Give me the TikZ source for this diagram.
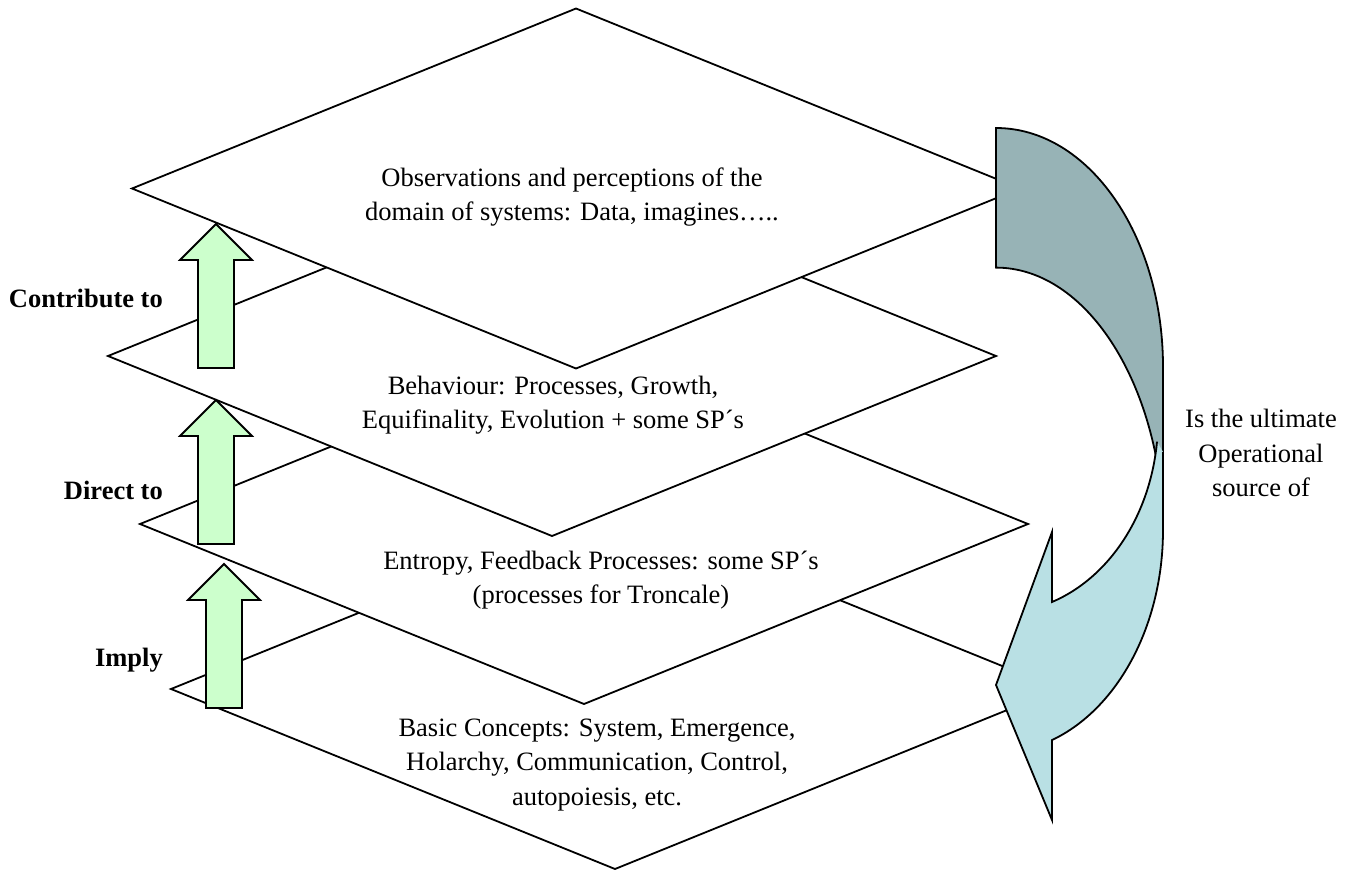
\documentclass[tikz,border=0pt]{standalone}
\usepackage{fontspec}
\setmainfont{Liberation Serif}
\usetikzlibrary{shapes.geometric}

\definecolor{arrowgreen}{RGB}{204,255,204}
\definecolor{backteal}{RGB}{151,179,182}
\definecolor{frontteal}{RGB}{185,224,228}

\tikzset{
  levelbox/.style={diamond, draw, fill=white, line width=1.8pt,
    minimum width=888pt, minimum height=360pt, inner sep=0pt, outer sep=0pt},
  leveltext/.style={align=center, inner sep=0pt,
    font=\fontsize{26.5}{34.5}\selectfont},
  sidelabel/.style={anchor=east, inner sep=0pt,
    font=\fontsize{26.5}{34.5}\selectfont\bfseries},
  uparrow/.style={draw, fill=arrowgreen, line width=1.8pt},
  bendarrow/.style={draw, line width=1.8pt}
}

\begin{document}
\begin{tikzpicture}[x=1pt, y=-1pt]
  \useasboundingbox (0,0) rectangle (1355,870);

  % the four layers, lowest first
  \node[levelbox] (basic) at (615,689) {};
  \node[levelbox] (entropy) at (584,524) {};
  \node[levelbox] (behaviour) at (552,356) {};
  \node[levelbox] (observ) at (576,188.5) {};

  \node[leveltext] (observtext) at (572,197)
    {Observations and perceptions of the\\domain of systems: Data, imagines…..};
  \node[leveltext] (behaviourtext) at (553,405)
    {Behaviour: Processes, Growth,\\Equifinality, Evolution + some SP´s};
  \node[leveltext] (entropytext) at (601,580)
    {Entropy, Feedback Processes: some SP´s\\(processes for Troncale)};
  \node[leveltext] (basictext) at (597,765)
    {Basic Concepts: System, Emergence,\\Holarchy, Communication, Control,\\autopoiesis, etc.};

  % green arrows between the layers
  \draw[uparrow] (198,368) -- ++(0,-108) -- ++(-18,0) -- ++(36,-36)
    -- ++(36,36) -- ++(-18,0) -- ++(0,108) -- cycle;
  \draw[uparrow] (198,544) -- ++(0,-108) -- ++(-18,0) -- ++(36,-36)
    -- ++(36,36) -- ++(-18,0) -- ++(0,108) -- cycle;
  \draw[uparrow] (206,708) -- ++(0,-108) -- ++(-18,0) -- ++(36,-36)
    -- ++(36,36) -- ++(-18,0) -- ++(0,108) -- cycle;

  \node[sidelabel] (contribute) at (163,298) {Contribute to};
  \node[sidelabel] (direct) at (163,490) {Direct to};
  \node[sidelabel] (imply) at (163,660) {Imply};

  % curved arrow: back face, then front face with head
  \path[bendarrow, fill=backteal] (996,128)
    arc[start angle=270, end angle=360, x radius=167, y radius=239]
    -- (1163,510)
    arc[start angle=353.75, end angle=270, x radius=168, y radius=272]
    -- cycle;
  \path[bendarrow, fill=frontteal] (1163,452) -- (1163,530)
    arc[start angle=0, end angle=70.4, x radius=167, y radius=223]
    -- (1052,820) -- (996,685) -- (1052,532) -- (1052,602)
    arc[start angle=70.8, end angle=6.5, x radius=158, y radius=193];

  \node[leveltext] (source) at (1261,453)
    {Is the ultimate\\Operational\\source of};
\end{tikzpicture}
\end{document}
